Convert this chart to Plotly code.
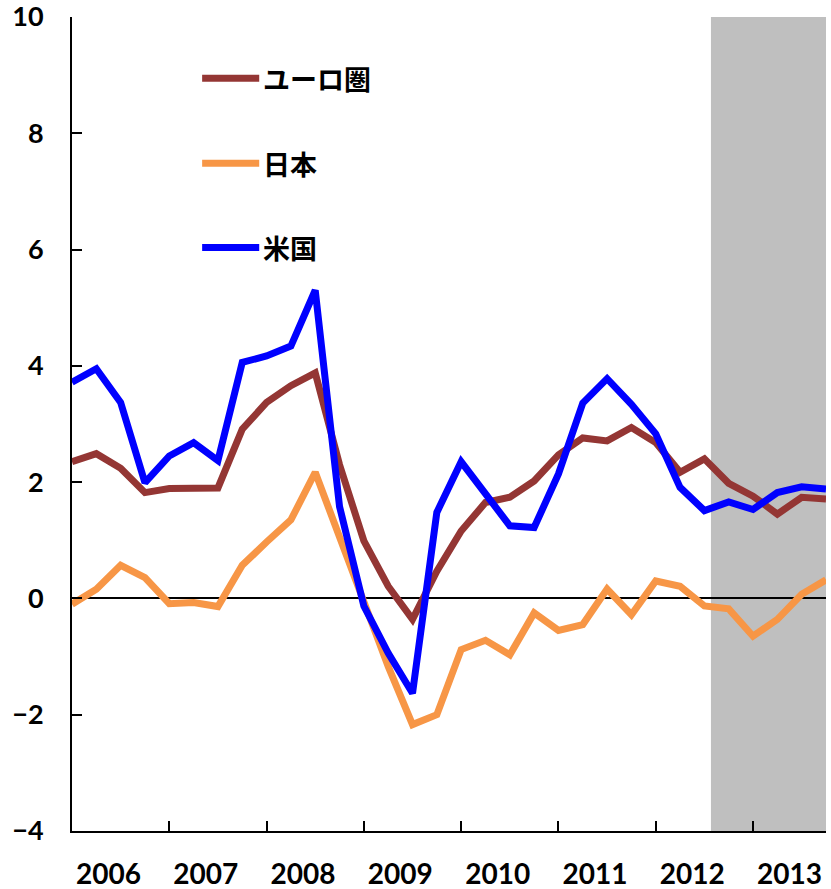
import plotly.graph_objects as go

# ---- data (quarterly, 2006Q1 - 2013Q4) ----
years = [2006, 2007, 2008, 2009, 2010, 2011, 2012, 2013]
quarters = [1, 2, 3, 4]

series_names = ["ユーロ圏", "日本", "米国"]

euro = [2.35, 2.49, 2.24, 1.82, 1.89, 1.91, 1.90, 2.91,
        3.37, 3.66, 3.88, 2.30, 0.99, 0.21, -0.36, 0.47,
        1.16, 1.65, 1.74, 2.02, 2.47, 2.76, 2.71, 2.94,
        2.68, 2.17, 2.40, 1.98, 1.76, 1.45, 1.74, 1.71]

japan = [-0.10, 0.16, 0.57, 0.36, -0.09, -0.07, -0.14, 0.57,
         0.97, 1.35, 2.17, 1.08, -0.05, -1.17, -2.17, -2.00,
         -0.88, -0.72, -0.97, -0.25, -0.55, -0.45, 0.16, -0.28,
         0.30, 0.21, -0.13, -0.18, -0.65, -0.36, 0.07, 0.32]

usa = [3.72, 3.95, 3.37, 1.99, 2.45, 2.68, 2.37, 4.06,
       4.17, 4.34, 5.30, 1.58, -0.13, -0.94, -1.63, 1.48,
       2.35, 1.78, 1.25, 1.22, 2.14, 3.36, 3.78, 3.34,
       2.83, 1.91, 1.51, 1.66, 1.53, 1.82, 1.92, 1.88]

y_ticks = [-4, -2, 0, 2, 4, 6, 8, 10]
forecast_start = 26.27  # shaded period starts here (quarter index)

colors = ["#943634", "#F79646", "#0000FF"]

# quarter index on a numeric axis
x = [(y - years[0]) * 4 + (q - 1) for y in years for q in quarters]
year_centers = [(y - years[0]) * 4 + 1.5 for y in years]
year_bounds = [(y - years[0]) * 4 for y in years[1:]]

font_num = "Lato, 'Noto Sans CJK JP', sans-serif"
font_jp = "'Noto Sans CJK JP', sans-serif"

fig = go.Figure()

for name, vals, col in zip(series_names, [euro, japan, usa], colors):
    fig.add_trace(go.Scatter(x=x, y=vals, mode="lines", name=name,
                             line=dict(color=col, width=7),
                             showlegend=False))

# shaded forecast period
fig.add_shape(type="rect", xref="x", yref="paper",
              x0=forecast_start, x1=x[-1], y0=0, y1=1,
              fillcolor="#BFBFBF", line=dict(width=0), layer="below")

# hand-drawn legend (long swatches like the original)
legend_y = [0.9249, 0.8202, 0.7167]
for name, col, ly in zip(series_names, colors, legend_y):
    fig.add_shape(type="line", xref="paper", yref="paper",
                  x0=0.1726, x1=0.2483, y0=ly, y1=ly,
                  line=dict(color=col, width=7))
    fig.add_annotation(xref="paper", yref="paper", x=0.2500, y=ly,
                       text=name, showarrow=False,
                       xanchor="left", yanchor="middle",
                       font=dict(family=font_jp, size=27,
                                 color="black", weight="bold"))

fig.update_xaxes(range=[x[0], x[-1]], automargin=False,
                 tickvals=year_centers, ticktext=[str(y) for y in years],
                 ticks="", showgrid=False, zeroline=False,
                 showline=True, linecolor="black", linewidth=2,
                 ticklabelstandoff=17, ticklabeloverflow="allow",
                 tickfont=dict(family=font_num, size=28,
                               color="black", weight="bold"),
                 minor=dict(tickmode="array", tickvals=year_bounds,
                            ticks="inside", ticklen=10, tickwidth=2,
                            tickcolor="black", showgrid=False))

fig.update_yaxes(range=[-4, 10], tickvals=y_ticks, automargin=False,
                 ticks="inside", ticklen=10, tickwidth=2, tickcolor="black",
                 showgrid=False, showline=True, linecolor="black", linewidth=2,
                 zeroline=True, zerolinecolor="black", zerolinewidth=2,
                 ticklabelstandoff=21, ticklabeloverflow="allow",
                 tickfont=dict(family=font_num, size=27,
                               color="black", weight="bold"))

fig.update_layout(width=831, height=889,
                  margin=dict(l=72, r=5, t=17, b=58),
                  plot_bgcolor="white", paper_bgcolor="white",
                  showlegend=False)

# drop the browser's default 8px body margin so the figure fills the window
fig.write_html("out.html",
               config={"displayModeBar": False},
               post_script="document.body.style.margin='0';"
                           "document.body.style.overflow='hidden';")
